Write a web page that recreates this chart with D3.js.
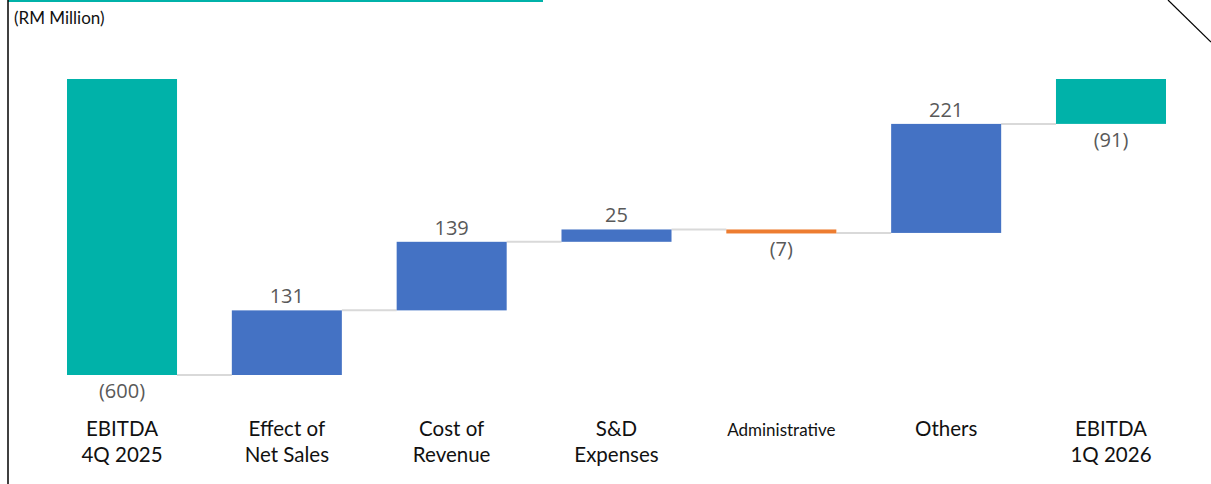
<!DOCTYPE html>
<html lang="en">
  <head>
    <meta charset="utf-8">
    <title>EBITDA bridge</title>
    <script src="https://cdn.jsdelivr.net/npm/d3@7"></script>
    <style>
      body { margin: 0; background: #fff; }
      .val { font-family: "Open Sans", "Liberation Sans", sans-serif; font-size: 20px; fill: #595959; }
      .cat { font-family: Lato, "Noto Sans", sans-serif; font-size: 20.5px; fill: #111; }
    </style>
  </head>
  <body>
    <script>
      // data
      var categories = [["EBITDA", "4Q 2025"], ["Effect of", "Net Sales"], ["Cost of", "Revenue"],
                        ["S&D", "Expenses"], ["Administrative"], ["Others"], ["EBITDA", "1Q 2026"]];
      var values = [-600, 131, 139, 25, -7, 221, -91];
      var kinds = ["total", "delta", "delta", "delta", "delta", "delta", "total"];
      var valueLabels = ["(600)", "131", "139", "25", "(7)", "221", "(91)"];

      var w = 1211, h = 484;
      var svg = d3.select("body").append("svg").attr("width", w).attr("height", h);

      // running totals
      var rows = [], run = 0;
      values.forEach(function(v, i) {
        var start, end;
        if (kinds[i] == "total") { start = 0; end = v; }
        else { start = run; end = run + v; }
        run = end;
        rows.push({ i: i, start: start, end: end, v: v, kind: kinds[i], label: valueLabels[i], cat: categories[i] });
      });

      var x = d3.scaleBand().domain(d3.range(values.length)).range([67, 1166])
                .paddingInner(0.3325).paddingOuter(0);
      var y = d3.scaleLinear().domain([0, -600]).range([79, 375]);

      function color(d) {
        if (d.kind == "total") return "#00B2A9";
        return d.v >= 0 ? "#4472C4" : "#ED7D31";
      }

      // frame bits
      svg.append("line").attr("x1", 8).attr("x2", 543).attr("y1", 1).attr("y2", 1)
         .attr("stroke", "#00B2A9").attr("stroke-width", 2);
      svg.append("line").attr("x1", 8).attr("x2", 8).attr("y1", 0).attr("y2", h)
         .attr("stroke", "#000").attr("stroke-width", 1.5);
      svg.append("line").attr("x1", 1168).attr("y1", 0).attr("x2", 1211).attr("y2", 42)
         .attr("stroke", "#000").attr("stroke-width", 1.2);

      svg.append("text").attr("x", 14).attr("y", 24)
         .attr("font-family", "Lato, 'Noto Sans', sans-serif").attr("font-size", 17)
         .attr("fill", "#111")
         .text("(RM Million)");

      // connectors
      svg.selectAll("line.conn").data(rows.slice(0, -1)).enter().append("line")
         .attr("class", "conn")
         .attr("x1", function(d) { return x(d.i) + x.bandwidth(); })
         .attr("x2", function(d) { return x(d.i + 1); })
         .attr("y1", function(d) { return y(d.end); })
         .attr("y2", function(d) { return y(d.end); })
         .attr("stroke", "#d9d9d9").attr("stroke-width", 2);

      // bars
      svg.selectAll("rect.bar").data(rows).enter().append("rect")
         .attr("class", "bar")
         .attr("x", function(d) { return x(d.i); })
         .attr("width", x.bandwidth())
         .attr("y", function(d) { return Math.min(y(d.start), y(d.end)); })
         .attr("height", function(d) { return Math.max(4, Math.abs(y(d.start) - y(d.end))); })
         .attr("fill", color);

      // value labels
      svg.selectAll("text.val").data(rows).enter().append("text")
         .attr("class", "val")
         .attr("text-anchor", "middle")
         .attr("x", function(d) { return x(d.i) + x.bandwidth() / 2; })
         .attr("y", function(d) {
           var top = Math.min(y(d.start), y(d.end));
           var bot = Math.max(y(d.start), y(d.end));
           if (d.kind == "delta" && d.v < 0) bot = top + 4;
           return d.v >= 0 ? top - 7 : bot + 23;
         })
         .text(function(d) { return d.label; });

      // category labels
      var cats = svg.selectAll("text.cat").data(rows).enter().append("text")
         .attr("class", "cat")
         .attr("text-anchor", "middle")
         .attr("x", function(d) { return x(d.i) + x.bandwidth() / 2; })
         .attr("y", 436)
         .style("font-size", function(d) { return d.cat[0] == "Administrative" ? "17px" : null; });
      cats.selectAll("tspan").data(function(d) { return d.cat; }).enter().append("tspan")
         .attr("x", function() { return d3.select(this.parentNode).attr("x"); })
         .attr("dy", function(d, j) { return j == 0 ? 0 : 26; })
         .text(function(d) { return d; });
    </script>
  </body>
</html>
